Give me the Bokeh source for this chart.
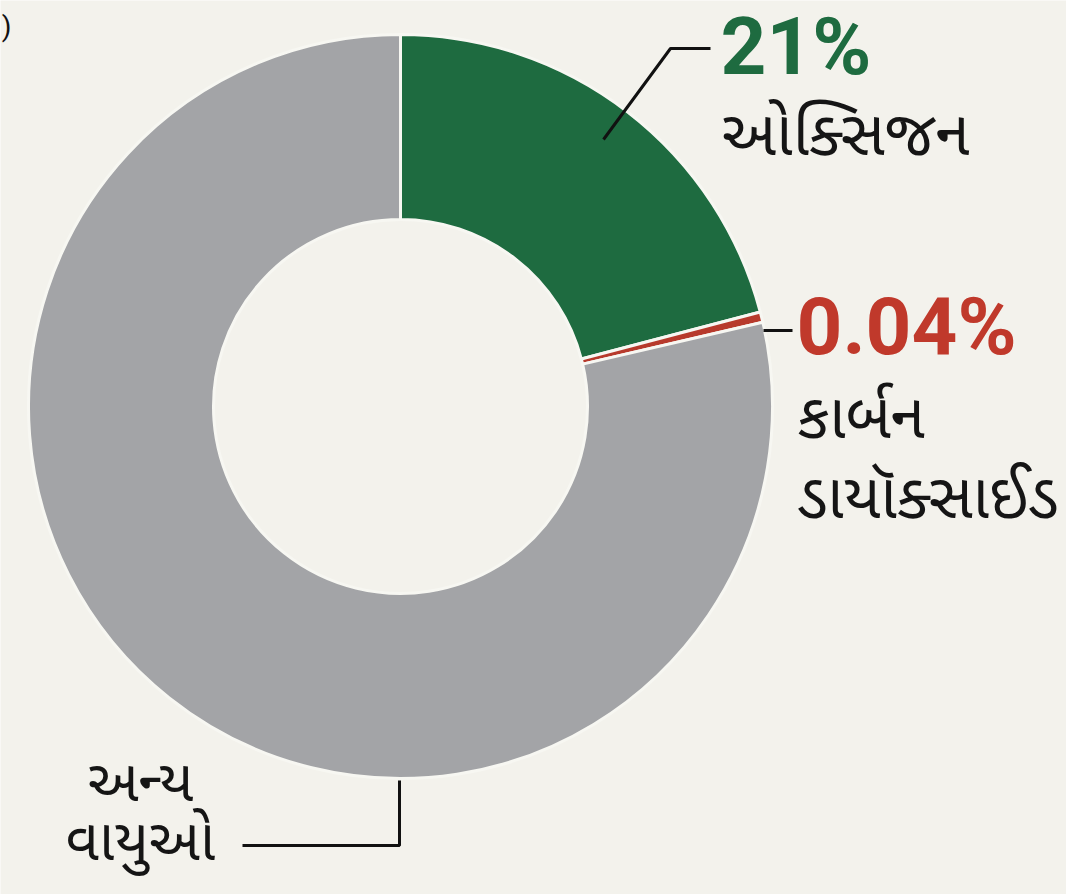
import math
from bokeh.plotting import figure
from bokeh.models import Range1d, ColumnDataSource
from bokeh.core.properties import value
from bokeh.embed import file_html
from bokeh.resources import INLINE

W, H = 1066, 894

# ---- data ----
gases = ["ઓક્સિજન", "કાર્બન ડાયૉક્સાઈડ", "અન્ય વાયુઓ"]
shares = [21, 0.04, 78.96]
pct_labels = ["21%", "0.04%", ""]
colors = ["#1e6b40", "#b73a2c", "#a3a4a7"]

BG = "#f3f2ec"
CX, CY = 400, H - 406
R_OUT, R_IN = 372, 187

# tiny slices get a minimum visible share so they can be seen (as in the original)
MIN_SHARE = 0.45
disp = [max(s, MIN_SHARE) for s in shares]
tot = sum(disp)
starts, ends = [], []
acc = 0.0
for d in disp:
    a0 = acc / tot * 2 * math.pi
    acc += d
    a1 = acc / tot * 2 * math.pi
    starts.append(math.pi / 2 - a0)
    ends.append(math.pi / 2 - a1)

src = ColumnDataSource(dict(start=starts, end=ends, color=colors,
                            x=[CX] * 3, y=[CY] * 3))

p = figure(width=W, height=H, x_range=Range1d(0, W), y_range=Range1d(0, H),
           output_backend="svg", toolbar_location=None, min_border=0)
p.axis.visible = False
p.grid.visible = False
p.outline_line_color = None
p.background_fill_color = BG
p.border_fill_color = BG

p.annular_wedge(x="x", y="y", inner_radius=R_IN, outer_radius=R_OUT,
                start_angle="start", end_angle="end", direction="clock",
                fill_color="color", line_color="#f7f7f2", line_width=3,
                source=src)

def Y(py):
    return H - py

# leader lines
p.line([603, 670, 710], [Y(139), Y(48), Y(48)], line_color="#111111", line_width=3)
p.line([763, 792], [Y(330), Y(330)], line_color="#111111", line_width=3)
p.line([399, 399, 242], [Y(780), Y(845), Y(845)], line_color="#111111", line_width=3)

num_font = value("Roboto")
guj_font = value("Noto Sans Gujarati, Noto Sans, sans-serif")

# percentage labels
p.text(x=[720], y=[Y(46)], text=[pct_labels[0]], text_font=num_font,
       text_font_style="bold", text_font_size="80px", text_color=colors[0],
       text_baseline="alphabetic", text_align="left")
p.text(x=[796], y=[Y(326)], text=[pct_labels[1]], text_font=num_font,
       text_font_style="bold", text_font_size="80px", text_color="#c0392b",
       text_baseline="alphabetic", text_align="left")

# name labels
p.text(x=[721], y=[Y(139)], text=[gases[0]], text_font=guj_font,
       text_font_size="62px", text_color="#151515",
       text_baseline="alphabetic", text_align="left")
co2_lines = gases[1].split(" ")
p.text(x=[797, 797], y=[Y(422), Y(502)], text=co2_lines, text_font=guj_font,
       text_font_size="62px", text_color="#151515",
       text_baseline="alphabetic", text_align="left")
oth_lines = gases[2].split(" ")
p.text(x=[140, 140], y=[Y(786), Y(845)], text=oth_lines, text_font=guj_font,
       text_font_size="58px", text_color="#151515",
       text_baseline="alphabetic", text_align="center")

# cropped fragment at top-left
p.text(x=[11], y=[Y(26)], text=[")"], text_font=value("Roboto"),
       text_font_size="28px", text_color="#111111", text_baseline="alphabetic",
       text_align="right")

open("out.html", "w").write(file_html(p, INLINE))
